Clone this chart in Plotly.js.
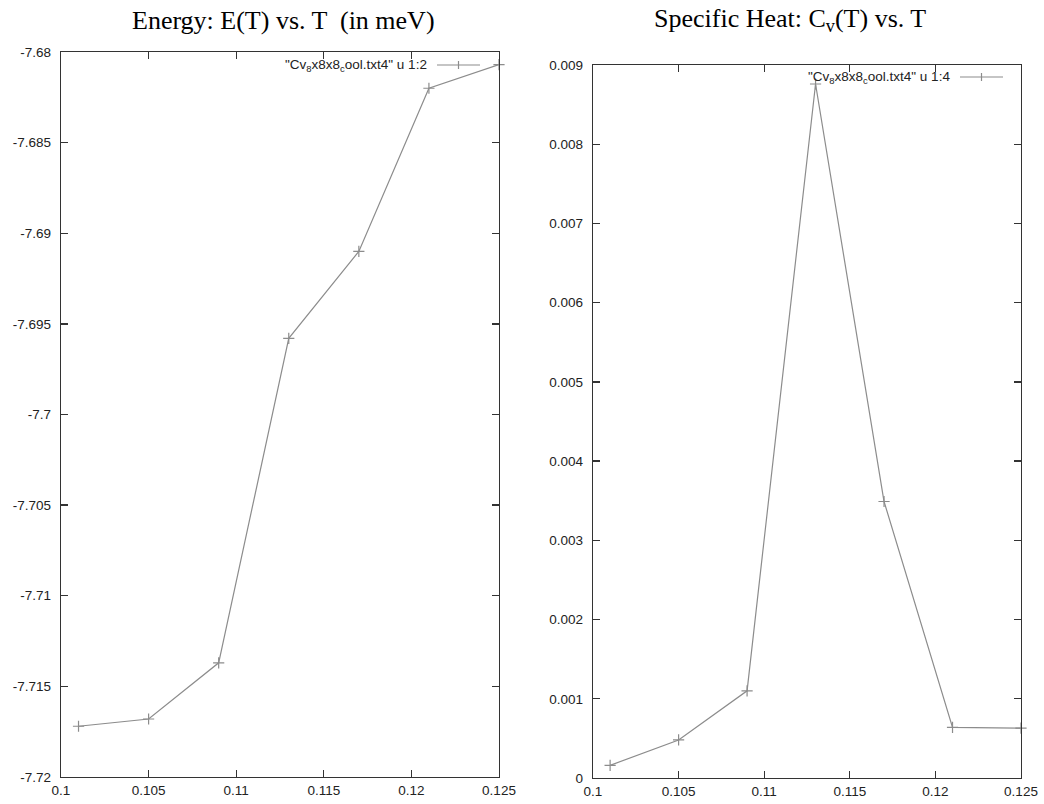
<!DOCTYPE html>
<html>
<head>
<meta charset="utf-8">
<script src="https://cdn.plot.ly/plotly-3.0.1.min.js"></script>
<style>html,body{margin:0;padding:0;background:#fff;}#chart{width:1044px;height:804px;}</style>
</head>
<body>
<div id="chart"></div>
<script>
// Data
const T = [0.101, 0.105, 0.109, 0.113, 0.117, 0.121, 0.125];
const energy = [-7.7172, -7.7168, -7.7137, -7.6958, -7.6910, -7.6820, -7.6807];
const specificHeat = [0.00016, 0.00048, 0.00110, 0.00876, 0.00349, 0.00064, 0.00063];

const xTickVals = [0.1, 0.105, 0.11, 0.115, 0.12, 0.125];
const xTickText = ['0.1', '0.105', '0.11', '0.115', '0.12', '0.125'];
const eTickVals = [-7.72, -7.715, -7.71, -7.705, -7.7, -7.695, -7.69, -7.685, -7.68];
const eTickText = ['-7.72', '-7.715', '-7.71', '-7.705', '-7.7', '-7.695', '-7.69', '-7.685', '-7.68'];
const cTickVals = [0, 0.001, 0.002, 0.003, 0.004, 0.005, 0.006, 0.007, 0.008, 0.009];
const cTickText = ['0', '0.001', '0.002', '0.003', '0.004', '0.005', '0.006', '0.007', '0.008', '0.009'];

const titleLeft = 'Energy: E(T) vs. T  (in meV)';
const titleRight = 'Specific Heat: C<sub>v</sub>(T) vs. T';
const legendLeft = '"Cv<sub>8</sub>x8x8<sub>c</sub>ool.txt4" u 1:2';
const legendRight = '"Cv<sub>8</sub>x8x8<sub>c</sub>ool.txt4" u 1:4';

const W = 1044, H = 804;
const px = v => v / W;
const py = v => 1 - v / H;

const lineColor = '#8c8c8c';
const frameColor = '#333333';
const tickFont = {family: 'Liberation Sans, Arial, sans-serif', size: 13.5, color: '#222'};

const trace = (y, xa, ya) => ({
  x: T, y: y, xaxis: xa, yaxis: ya, type: 'scatter', mode: 'lines+markers',
  line: {color: lineColor, width: 1.2},
  marker: {symbol: 'cross-thin-open', size: 8, color: lineColor, line: {color: lineColor, width: 1.2}},
  showlegend: false, hoverinfo: 'skip', cliponaxis: false
});

const axisCommon = {
  showgrid: false, zeroline: false, showline: true, linecolor: frameColor, linewidth: 1.3,
  mirror: 'ticks', ticks: 'inside', ticklen: 7, tickcolor: frameColor, tickwidth: 1.3,
  tickfont: tickFont, tickmode: 'array', fixedrange: true
};

const L = {l: 61, r: 499, t: 52, b: 777};
const R = {l: 593, r: 1021, t: 65, b: 778};

const layout = {
  width: W, height: H,
  margin: {l: 0, r: 0, t: 0, b: 0},
  paper_bgcolor: '#fff', plot_bgcolor: '#fff',
  showlegend: false,
  xaxis: Object.assign({}, axisCommon, {domain: [px(L.l), px(L.r)], range: [0.1, 0.125], tickvals: xTickVals, ticktext: xTickText, anchor: 'y'}),
  yaxis: Object.assign({}, axisCommon, {domain: [py(L.b), py(L.t)], range: [-7.72, -7.68], tickvals: eTickVals, ticktext: eTickText, anchor: 'x', ticklabelstandoff: 6}),
  xaxis2: Object.assign({}, axisCommon, {domain: [px(R.l), px(R.r)], range: [0.1, 0.125], tickvals: xTickVals, ticktext: xTickText, anchor: 'y2'}),
  yaxis2: Object.assign({}, axisCommon, {domain: [py(R.b), py(R.t)], range: [0, 0.009], tickvals: cTickVals, ticktext: cTickText, anchor: 'x2', ticklabelstandoff: 6}),
  annotations: [
    {text: titleLeft, xref: 'paper', yref: 'paper', x: px(283), y: py(20), xanchor: 'center', yanchor: 'middle', showarrow: false,
     font: {family: 'Liberation Serif, Times New Roman, serif', size: 26, color: '#000'}},
    {text: titleRight, xref: 'paper', yref: 'paper', x: px(790), y: py(20), xanchor: 'center', yanchor: 'middle', showarrow: false,
     font: {family: 'Liberation Serif, Times New Roman, serif', size: 26, color: '#000'}},
    {text: legendLeft, xref: 'paper', yref: 'paper', x: px(429), y: py(65), xanchor: 'right', yanchor: 'middle', showarrow: false,
     font: {family: 'Liberation Sans, Arial, sans-serif', size: 13.5, color: '#222'}},
    {text: legendRight, xref: 'paper', yref: 'paper', x: px(952), y: py(77), xanchor: 'right', yanchor: 'middle', showarrow: false,
     font: {family: 'Liberation Sans, Arial, sans-serif', size: 13.5, color: '#222'}}
  ],
  shapes: [
    {type: 'line', xref: 'paper', yref: 'paper', x0: px(437), x1: px(480), y0: py(65), y1: py(65), line: {color: lineColor, width: 1.2}},
    {type: 'line', xref: 'paper', yref: 'paper', x0: px(458.5), x1: px(458.5), y0: py(61), y1: py(69), line: {color: lineColor, width: 1.2}},
    {type: 'line', xref: 'paper', yref: 'paper', x0: px(960), x1: px(1003), y0: py(77), y1: py(77), line: {color: lineColor, width: 1.2}},
    {type: 'line', xref: 'paper', yref: 'paper', x0: px(981.5), x1: px(981.5), y0: py(73), y1: py(81), line: {color: lineColor, width: 1.2}}
  ]
};

Plotly.newPlot('chart', [trace(energy, 'x', 'y'), trace(specificHeat, 'x2', 'y2')], layout, {staticPlot: true, displayModeBar: false});
</script>
</body>
</html>
